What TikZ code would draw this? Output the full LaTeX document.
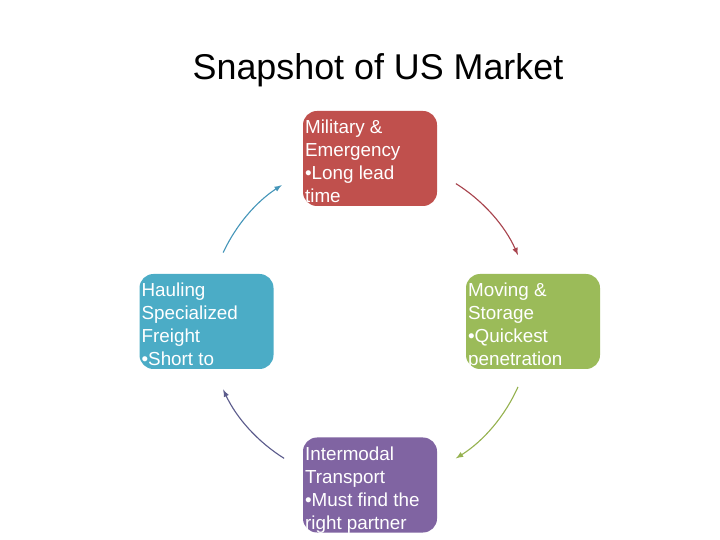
\documentclass[tikz,border=0pt]{standalone}
\usepackage{fontspec}
\setmainfont{Liberation Sans}

\definecolor{milred}{RGB}{192,80,77}
\definecolor{haulblue}{RGB}{75,172,198}
\definecolor{movegreen}{RGB}{155,187,89}
\definecolor{interpurple}{RGB}{128,100,162}

\tikzset{
	seg/.style = {rounded corners = 0.35cm, minimum width = 3.35cm, minimum height = 2.375cm, inner sep = 0pt},
	segtext/.style = {anchor = north west, inner xsep = 1.5pt, inner ysep = 6.5pt, text = white, align = left, font = \fontsize{13.4}{16.4}\selectfont},
	cyc/.style = {-latex, line width = 0.8pt}
}

\begin{document}
\begin{tikzpicture}
	\useasboundingbox (0,0) rectangle (18,13.5);
	\node [anchor = base, font = \fontsize{25.5}{30}\selectfont] (title) at (9.45,11.5) {Snapshot of US Market};
	% the four segments
	\node [seg, fill = milred] (mil) at (9.25,9.5375) {};
	\node [seg, fill = haulblue] (haul) at (5.1625,5.4625) {};
	\node [seg, fill = movegreen] (move) at (13.325,5.4625) {};
	\node [seg, fill = interpurple] (inter) at (9.25,1.375) {};
	\node [segtext] (milT) at (mil.north west) {Military \&\\Emergency\\•Long lead\\time};
	\node [segtext] (haulT) at (haul.north west) {Hauling\\Specialized\\Freight\\•Short to};
	\node [segtext] (moveT) at (move.north west) {Moving \&\\Storage\\•Quickest\\penetration};
	\node [segtext] (interT) at (inter.north west) {Intermodal\\Transport\\•Must find the\\right partner};
	% cycle arrows
	\coordinate (hub) at (9.25,5.475);
	\draw [cyc, color = {rgb,255:red,168;green,68;blue,78}] ([shift = {(58:4.05)}]hub) arc (58:24:4.05);
	\draw [cyc, color = {rgb,255:red,150;green,178;blue,80}] ([shift = {(-24:4.05)}]hub) arc (-24:-58:4.05);
	\draw [cyc, color = {rgb,255:red,92;green,92;blue,140}] ([shift = {(-122:4.05)}]hub) arc (-122:-155:4.05);
	\draw [cyc, color = {rgb,255:red,70;green,150;blue,185}] ([shift = {(155:4.05)}]hub) arc (155:123:4.05);
\end{tikzpicture}
\end{document}
